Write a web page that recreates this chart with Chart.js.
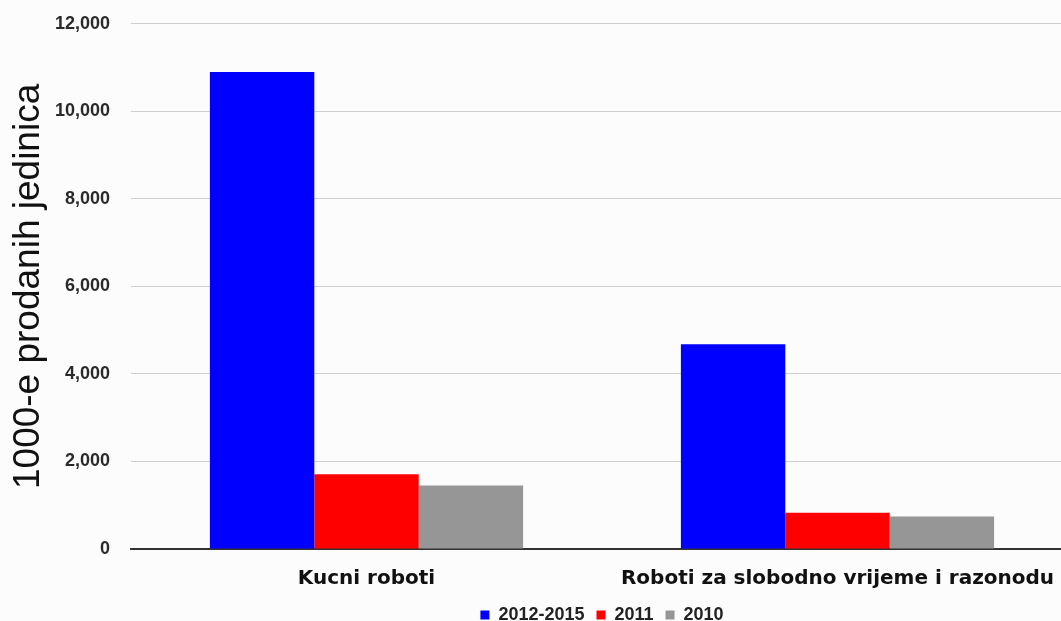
<!DOCTYPE html>
<html>
<head>
<meta charset="utf-8">
<script src="https://cdn.jsdelivr.net/npm/chart.js@4/dist/chart.umd.min.js"></script>
<style>
  html, body { margin: 0; padding: 0; overflow: hidden; background: #fcfcfc; }
  #wrap { width: 1073px; height: 642px; margin-top: -8px; }
</style>
</head>
<body>
<div id="wrap"><canvas id="robotChart" width="1073" height="642"></canvas></div>
<script>
// podaci
const categories = ['Kucni roboti', 'Roboti za slobodno vrijeme i razonodu'];
const seriesNames = ['2012-2015', '2011', '2010'];
const values2012_2015 = [10900, 4680];
const values2011 = [1710, 830];
const values2010 = [1450, 740];
const yTicks = [0, 2000, 4000, 6000, 8000, 10000, 12000];

const colors = ['#0000ff', '#ff0000', '#969696'];

function makeDataset(label, data, color) {
    return {
        label: label,
        data: data,
        backgroundColor: color,
        borderWidth: 0,
        barPercentage: 1.0,
        categoryPercentage: 0.665
    };
}

const ctx = document.getElementById('robotChart').getContext('2d');
new Chart(ctx, {
    type: 'bar',
    data: {
        labels: categories,
        datasets: [
            makeDataset(seriesNames[0], values2012_2015, colors[0]),
            makeDataset(seriesNames[1], values2011, colors[1]),
            makeDataset(seriesNames[2], values2010, colors[2])
        ]
    },
    options: {
        responsive: false,
        animation: false,
        layout: { padding: { top: 12, left: 0, right: 0, bottom: 0 } },
        plugins: {
            tooltip: { enabled: false },
            legend: {
                position: 'bottom',
                fullSize: false,
                labels: {
                    boxWidth: 9,
                    boxHeight: 9,
                    padding: 12,
                    color: '#222',
                    font: { family: 'Liberation Sans, Arial', size: 18, weight: 'bold' }
                }
            }
        },
        scales: {
            x: {
                afterFit: axis => { axis.height = 45; },
                grid: { display: false, drawTicks: false },
                border: { color: '#333', width: 2 },
                ticks: {
                    color: '#111',
                    padding: 18,
                    font: { family: 'DejaVu Sans, Verdana', size: 20, weight: 'bold' }
                }
            },
            y: {
                min: 0,
                max: 12000,
                afterBuildTicks: axis => { axis.ticks = yTicks.map(v => ({ value: v })); },
                afterFit: axis => { axis.width = 131; },
                grid: { color: '#cfcfcf', lineWidth: 1, drawTicks: false },
                border: { display: false },
                ticks: {
                    color: '#2a2a2a',
                    padding: 21,
                    font: { family: 'Liberation Sans, Arial', size: 18, weight: 'bold' },
                    callback: v => v.toLocaleString('en-US')
                },
                title: {
                    display: true,
                    text: '1000-e prodanih jedinica',
                    color: '#111',
                    padding: { top: 7, bottom: 0 },
                    font: { family: 'Liberation Sans, Arial', size: 37 }
                }
            }
        }
    }
});
</script>
</body>
</html>
